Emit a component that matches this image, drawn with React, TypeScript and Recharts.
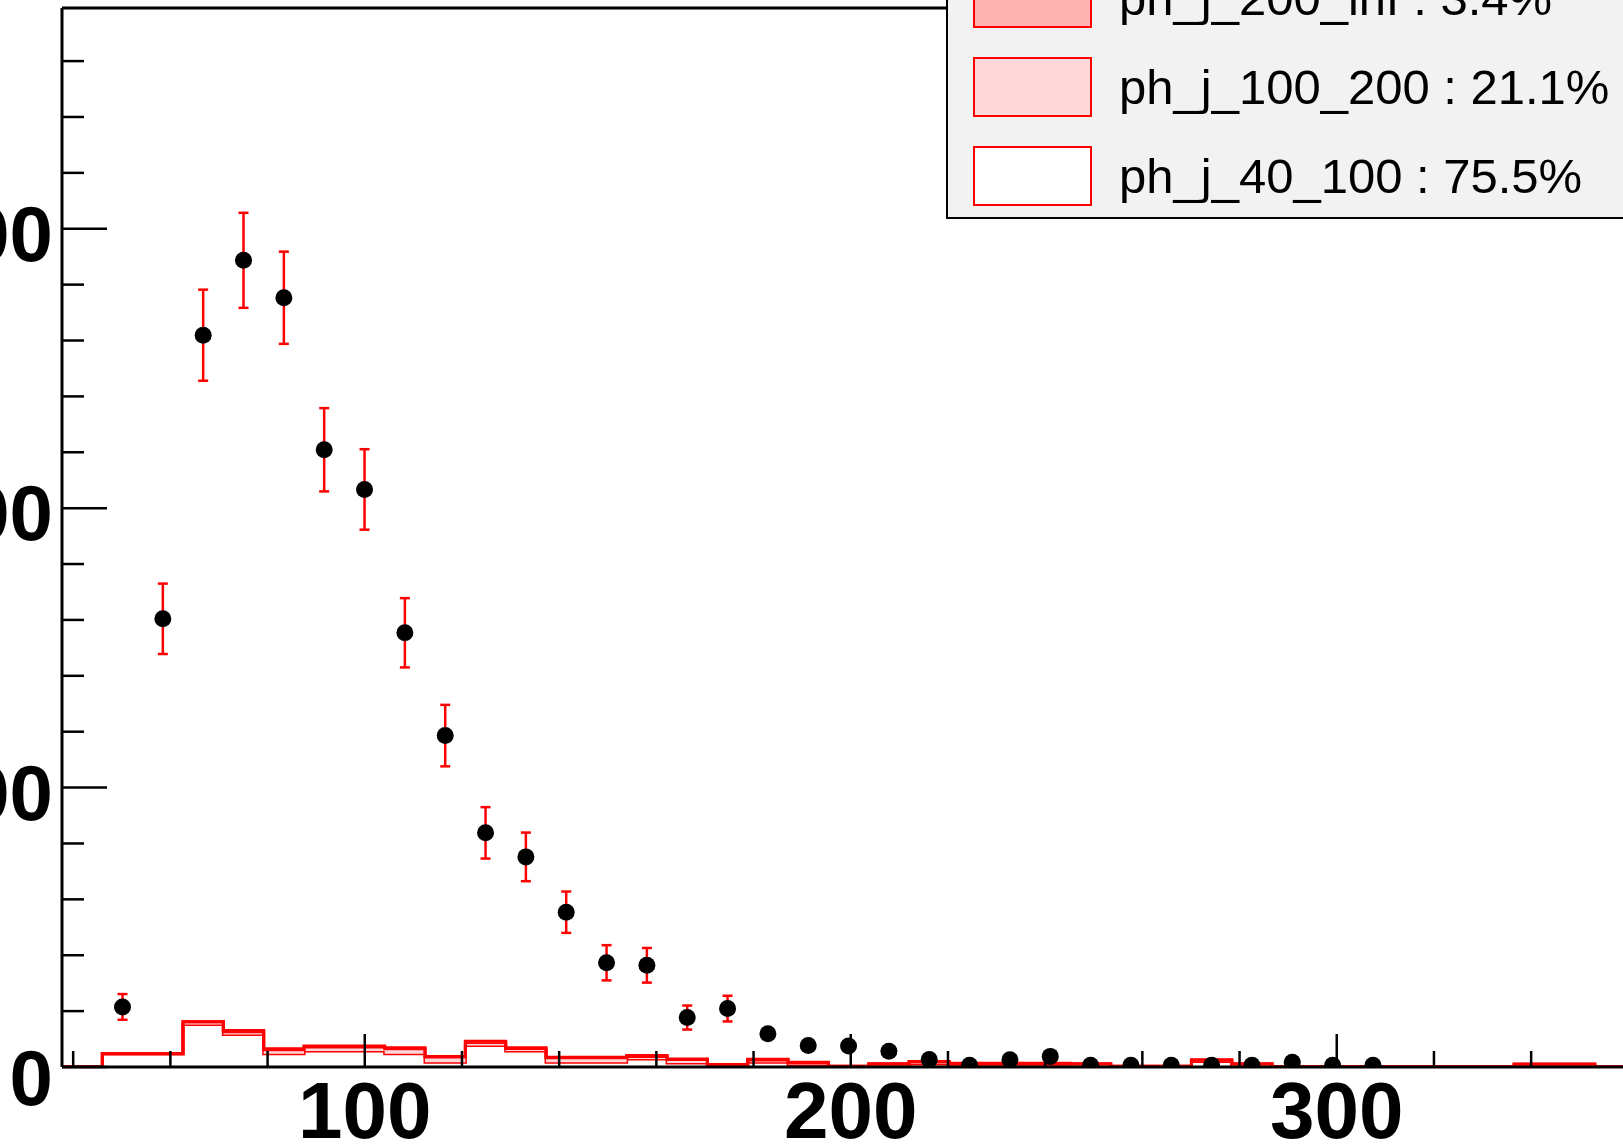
import React from 'react';
import { ComposedChart, Area, Scatter, ErrorBar, XAxis, YAxis, ReferenceLine } from 'recharts';

// bin low edges of the stacked histograms (last entry closes the final bin)
const binEdges = [
  37.7, 46.0, 54.3, 62.6, 70.9, 79.2, 87.5, 95.8, 104.1, 112.4, 120.7, 129.0, 137.3,
  145.6, 153.9, 162.2, 170.5, 178.8, 187.1, 195.4, 203.7, 212.0, 220.3, 228.6, 236.9,
  245.2, 253.5, 261.8, 270.1, 278.4, 286.7, 295.0, 303.3, 311.6, 319.9, 328.2, 336.5,
  344.8, 353.1, 361.4,
];

const ph_j_40_100 = [
  0, 4.7, 4.7, 15.2, 11.6, 4.7, 5.7, 5.7, 4.7, 1.7, 7.7, 5.7, 1.7,
  1.7, 2.9, 1.4, 0.5, 1.7, 0.9, 0.2, 0.5, 1.1, 0.6, 0.6, 0.6,
  0.4, 0.1, 0.1, 2.0, 0.4, 0, 0, 0, 0, 0, 0, 0.4,
  0.4, 0,
];
const ph_j_100_200 = [
  0, 0, 0, 1.0, 1.0, 1.5, 1.5, 1.5, 1.8, 1.9, 1.1, 0.9, 1.6,
  1.6, 0.9, 1.3, 0.4, 0.8, 0.7, 0.1, 0.6, 0.7, 0.6, 0.6, 0.6,
  0.7, 0.2, 0.2, 0.4, 0.7, 0.1, 0.1, 0.1, 0.1, 0.1, 0.1, 0.6,
  0.6, 0,
];
const ph_j_200_inf = [
  0, 0, 0, 0, 0.5, 0.3, 0.3, 0.3, 0.4, 0.2, 0.4, 0.3, 0.2,
  0.2, 0.3, 0.2, 0, 0.3, 0.1, 0, 0.1, 0.2, 0.1, 0.1, 0.1,
  0.1, 0, 0, 0.2, 0.1, 0, 0, 0, 0, 0, 0, 0.1,
  0.1, 0,
];

// data points (bin centres), counts and visible error bars
const dataX = [
  50.15, 58.45, 66.75, 75.05, 83.35, 91.65, 99.95, 108.25, 116.55, 124.85, 133.15,
  141.45, 149.75, 158.05, 166.35, 174.65, 182.95, 191.25, 199.55, 207.85, 216.15,
  224.45, 232.75, 241.05, 249.35, 257.65, 265.95, 274.25, 282.55, 290.85, 299.15, 307.45,
];
const dataY = [
  21.5, 160.4, 261.9, 288.7, 275.3, 220.9, 206.7, 155.4, 118.6, 83.8, 75.2,
  55.4, 37.3, 36.4, 17.7, 20.9, 11.9, 7.7, 7.5, 5.6, 2.7,
  0.6, 2.6, 3.8, 0.6, 0.6, 0.6, 0.6, 0.6, 1.7, 0.6, 0.6,
];
const dataErr = [
  4.6, 12.6, 16.3, 17.0, 16.5, 14.9, 14.4, 12.4, 11.0, 9.2, 8.7,
  7.4, 6.3, 6.2, 4.3, 4.6, 0, 0, 0, 0, 0,
  0, 0, 0, 0, 0, 0, 0, 0, 0, 0, 0,
];

const xTicks = [40, 60, 80, 100, 120, 140, 160, 180, 200, 220, 240, 260, 280, 300, 320, 340];
const yTicks = [0, 20, 40, 60, 80, 100, 120, 140, 160, 180, 200, 220, 240, 260, 280, 300, 320, 340, 360];

const legendItems = [
  { name: 'ph_j_200_inf', share: '3.4%', fill: '#ffb3b3' },
  { name: 'ph_j_100_200', share: '21.1%', fill: '#ffd9d9' },
  { name: 'ph_j_40_100', share: '75.5%', fill: '#ffffff' },
];

const X_MIN = 37.7;
const X_MAX = 358.9;
const Y_MAX = 379;
const FONT = '"Liberation Sans", Arial, Helvetica, sans-serif';

const histRows = binEdges.map((x, i) => {
  const j = Math.min(i, ph_j_40_100.length - 1);
  return { x, a: ph_j_40_100[j], b: ph_j_100_200[j], c: ph_j_200_inf[j] };
});

const points = dataX.map((x, i) => ({ x, y: dataY[i], err: dataErr[i] }));

const YTick = (props: any) => {
  const { x, y, payload } = props;
  const v = payload.value;
  const major = v % 100 === 0;
  return (
    <g>
      <line x1={x} x2={x + (major ? 45 : 22)} y1={y} y2={y} stroke="#000" strokeWidth={2.5} />
      {major && (
        <text x={53} y={y + (v === 0 ? 38 : 32)} textAnchor="end" fontFamily={FONT} fontWeight="bold" fontSize={78} fill="#000">
          {v}
        </text>
      )}
    </g>
  );
};

const XTick = (props: any) => {
  const { x, y, payload } = props;
  const v = payload.value;
  const major = v % 100 === 0;
  return (
    <g>
      <line x1={x} x2={x} y1={y} y2={y - (major ? 33 : 16)} stroke="#000" strokeWidth={2.5} />
      {major && (
        <text x={x} y={y + 71} textAnchor="middle" fontFamily={FONT} fontWeight="bold" fontSize={80} fill="#000">
          {v}
        </text>
      )}
    </g>
  );
};

const Marker = (props: any) => <circle cx={props.cx} cy={props.cy} r={8.5} fill="#000" />;

export default function App() {
  return (
    <div style={{ position: 'relative', width: 1623, height: 1144, overflow: 'hidden', background: '#fff' }}>
      <style>{'body{margin:0;}'}</style>
      <ComposedChart width={1623} height={1144} data={histRows} margin={{ top: 8, right: 0, bottom: 0, left: 0 }}>
        <Area type="stepAfter" dataKey="a" stackId="h" stroke="#ff0000" strokeWidth={3} fill="#ffffff" fillOpacity={1} dot={false} activeDot={false} isAnimationActive={false} />
        <Area type="stepAfter" dataKey="b" stackId="h" stroke="#ff0000" strokeWidth={3} fill="#ffd9d9" fillOpacity={1} dot={false} activeDot={false} isAnimationActive={false} />
        <Area type="stepAfter" dataKey="c" stackId="h" stroke="#ff0000" strokeWidth={3} fill="#ffb3b3" fillOpacity={1} dot={false} activeDot={false} isAnimationActive={false} />
        <Scatter data={points} dataKey="y" shape={<Marker />} isAnimationActive={false}>
          <ErrorBar dataKey="err" direction="y" width={5} stroke="#ff0000" strokeWidth={2.5} isAnimationActive={false} />
        </Scatter>
        <ReferenceLine y={Y_MAX} stroke="#000" strokeWidth={3} ifOverflow="visible" />
        <XAxis
          type="number"
          dataKey="x"
          domain={[X_MIN, X_MAX]}
          allowDataOverflow
          ticks={xTicks}
          interval={0}
          height={77}
          tickSize={0}
          tickMargin={0}
          tickLine={false}
          tick={<XTick />}
          axisLine={{ stroke: '#000', strokeWidth: 3 }}
        />
        <YAxis
          type="number"
          dataKey="y"
          domain={[0, Y_MAX]}
          allowDataOverflow
          ticks={yTicks}
          interval={0}
          width={62}
          tickSize={0}
          tickMargin={0}
          tickLine={false}
          tick={<YTick />}
          axisLine={{ stroke: '#000', strokeWidth: 3 }}
        />
      </ComposedChart>
      <div
        style={{
          position: 'absolute',
          left: 946,
          top: -122,
          width: 760,
          height: 341,
          background: '#f2f2f2',
          border: '2.5px solid #000',
          boxSizing: 'border-box',
        }}
      >
        {legendItems.map((it, i) => (
          <div
            key={it.name}
            style={{
              position: 'absolute',
              left: 25,
              top: 88 + i * 89,
              height: 60,
              display: 'flex',
              alignItems: 'center',
            }}
          >
            <div style={{ width: 119, height: 60, boxSizing: 'border-box', border: '2.5px solid #ff0000', background: it.fill }} />
            <span style={{ marginLeft: 27, fontFamily: FONT, fontSize: 49, color: '#000', whiteSpace: 'nowrap', lineHeight: '60px' }}>
              {it.name} : {it.share}
            </span>
          </div>
        ))}
      </div>
    </div>
  );
}
